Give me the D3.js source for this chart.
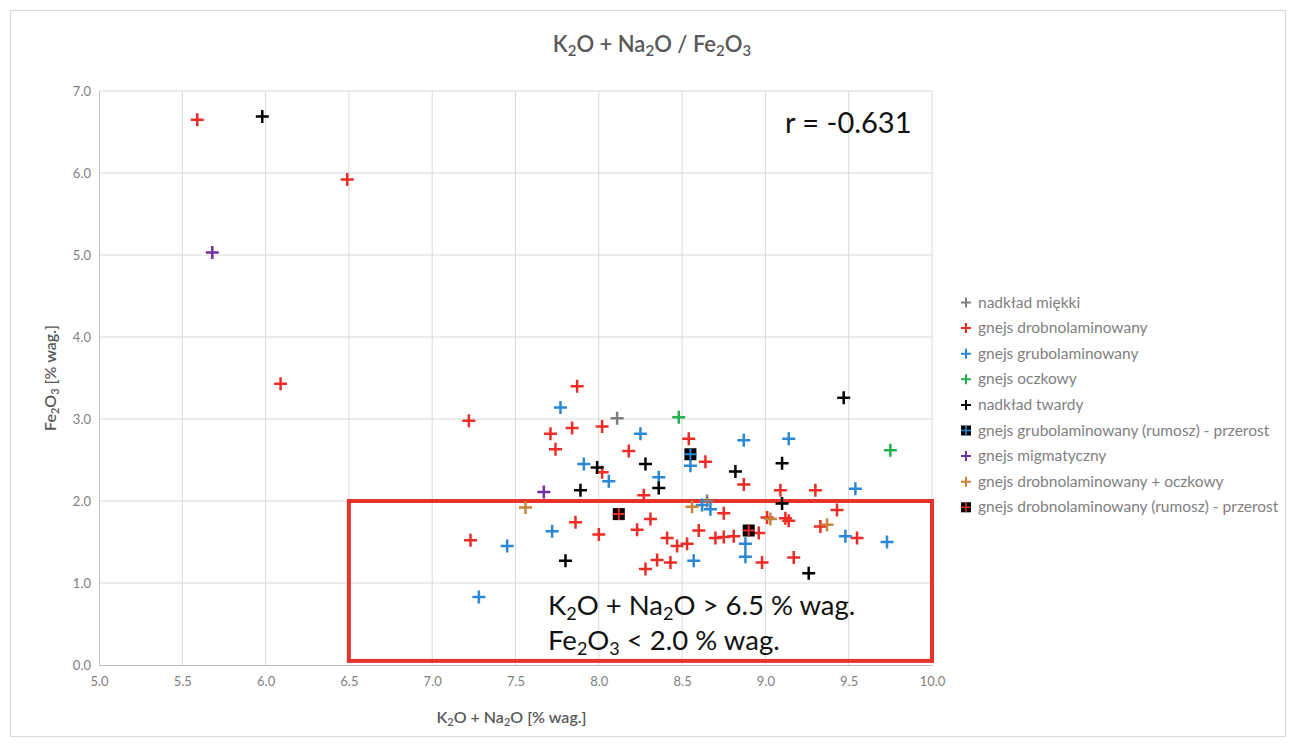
<!DOCTYPE html>
<html>
<head>
<meta charset="utf-8">
<script src="https://cdn.jsdelivr.net/npm/d3@7"></script>
<style>
  html, body { margin: 0; padding: 0; background: #ffffff; }
  svg { display: block; font-family: Lato, "Open Sans", "Liberation Sans", sans-serif; }
</style>
</head>
<body>
<svg id="chart" width="1296" height="747"></svg>
<script>
// ---------- data ----------
const xTicks = [5.0, 5.5, 6.0, 6.5, 7.0, 7.5, 8.0, 8.5, 9.0, 9.5, 10.0];
const yTicks = [0, 1, 2, 3, 4, 5, 6, 7];

const seriesNames = [
  "nadkład miękki",
  "gnejs drobnolaminowany",
  "gnejs grubolaminowany",
  "gnejs oczkowy",
  "nadkład twardy",
  "gnejs grubolaminowany (rumosz) - przerost",
  "gnejs migmatyczny",
  "gnejs drobnolaminowany + oczkowy",
  "gnejs drobnolaminowany (rumosz) - przerost"
];
const seriesColors = ["#7f7f7f", "#ee2b26", "#2a88d4", "#22b14c", "#000000", "#2a88d4", "#7030a0", "#c9843a", "#ee2b26"];
const seriesSquare = [false, false, false, false, false, true, false, false, true];

const nadkladMiekki = [[8.11, 3.01], [8.65, 2.00]];
const gnejsDrobno = [
  [5.59, 6.65], [6.49, 5.92], [6.09, 3.43], [7.87, 3.40], [7.22, 2.98], [8.02, 2.91], [7.84, 2.89],
  [7.71, 2.82], [8.54, 2.76], [7.74, 2.63], [8.18, 2.61], [8.64, 2.48], [8.02, 2.35], [8.87, 2.20],
  [9.09, 2.13], [9.30, 2.13], [8.27, 2.07], [8.75, 1.85], [9.01, 1.80], [9.12, 1.79], [9.14, 1.76],
  [9.43, 1.89], [9.33, 1.69], [8.31, 1.78], [7.86, 1.74], [8.23, 1.65], [8.00, 1.59], [8.41, 1.55],
  [8.47, 1.45], [8.53, 1.48], [8.60, 1.64], [8.70, 1.55], [8.75, 1.56], [8.81, 1.57], [8.96, 1.61],
  [7.23, 1.52], [8.35, 1.28], [8.43, 1.25], [8.28, 1.17], [8.98, 1.25], [9.17, 1.31], [9.55, 1.55]
];
const gnejsGrubo = [
  [7.77, 3.14], [8.25, 2.82], [8.87, 2.74], [9.14, 2.76], [8.55, 2.43], [7.91, 2.45], [8.06, 2.24],
  [8.36, 2.29], [9.54, 2.15], [8.62, 1.95], [8.67, 1.90], [7.72, 1.63], [7.45, 1.45], [8.57, 1.27],
  [8.88, 1.48], [8.88, 1.32], [9.48, 1.57], [9.73, 1.50], [7.28, 0.83]
];
const gnejsOczkowy = [[8.48, 3.02], [9.75, 2.62]];
const nadkladTwardy = [
  [5.98, 6.69], [9.47, 3.26], [8.28, 2.45], [7.99, 2.41], [9.10, 2.46], [8.82, 2.36], [8.36, 2.16],
  [7.89, 2.13], [9.10, 1.97], [7.80, 1.27], [9.26, 1.12]
];
const gnejsGruboRumosz = [[8.55, 2.57]];
const gnejsMigmatyczny = [[5.68, 5.03], [7.67, 2.11]];
const gnejsDrobnoOczkowy = [[7.56, 1.92], [8.56, 1.93], [9.03, 1.78], [9.37, 1.71]];
const gnejsDrobnoRumosz = [[8.12, 1.84], [8.90, 1.64]];

const seriesData = [nadkladMiekki, gnejsDrobno, gnejsGrubo, gnejsOczkowy, nadkladTwardy,
  gnejsGruboRumosz, gnejsMigmatyczny, gnejsDrobnoOczkowy, gnejsDrobnoRumosz];

const correlation = "r = -0.631";
const boxX = [6.5, 10.0];
const boxY = [0.05, 2.0];

// ---------- layout ----------
const svg = d3.select("#chart");
const W = 1296, H = 747;
const plot = { left: 99, right: 932, top: 91, bottom: 665 };

svg.append("rect").attr("x", 10.5).attr("y", 10.5).attr("width", W - 21).attr("height", H - 21)
  .attr("fill", "#ffffff").attr("stroke", "#d9d9d9");

const x = d3.scaleLinear().domain([5, 10]).range([plot.left, plot.right]);
const y = d3.scaleLinear().domain([0, 7]).range([plot.bottom, plot.top]);

// gridlines
const grid = svg.append("g");
grid.selectAll("line.v").data(xTicks.slice(1)).join("line")
  .attr("x1", d => x(d)).attr("x2", d => x(d)).attr("y1", plot.top).attr("y2", plot.bottom)
  .attr("stroke", "#d9d9d9").attr("stroke-width", 1);
grid.selectAll("line.h").data(yTicks.slice(1)).join("line")
  .attr("y1", d => y(d)).attr("y2", d => y(d)).attr("x1", plot.left).attr("x2", plot.right)
  .attr("stroke", "#d9d9d9").attr("stroke-width", 1);

// axes
const xAxis = d3.axisBottom(x).tickValues(xTicks).tickFormat(d3.format(".1f")).tickSize(0).tickPadding(12);
const yAxis = d3.axisLeft(y).tickValues(yTicks).tickFormat(d3.format(".1f")).tickSize(0).tickPadding(8);
const gx = svg.append("g").attr("transform", `translate(0,${plot.bottom})`).call(xAxis);
const gy = svg.append("g").attr("transform", `translate(${plot.left},0)`).call(yAxis);
[gx, gy].forEach(g => {
  g.select(".domain").attr("stroke", "#bfbfbf").attr("stroke-width", 1);
  g.selectAll("text").attr("fill", "#7f7f7f").attr("font-size", 13).attr("font-family", "Lato, sans-serif");
});

// red box annotation
svg.append("rect")
  .attr("x", x(boxX[0])).attr("y", y(boxY[1]))
  .attr("width", x(boxX[1]) - x(boxX[0])).attr("height", y(boxY[0]) - y(boxY[1]))
  .attr("fill", "none").attr("stroke", "#e8332a").attr("stroke-width", 4);

// markers
const crossPath = "M-6.5,0H6.5M0,-6.5V6.5";
seriesData.forEach((data, i) => {
  const g = svg.append("g");
  const pts = g.selectAll("g").data(data).join("g")
    .attr("transform", d => `translate(${x(d[0])},${y(d[1])})`);
  if (seriesSquare[i]) {
    pts.append("rect").attr("x", -6).attr("y", -6).attr("width", 12).attr("height", 12).attr("fill", "#000");
    pts.append("path").attr("d", "M-6,0H6M0,-6V6").attr("stroke", seriesColors[i]).attr("stroke-width", 2);
  } else {
    pts.append("path").attr("d", crossPath).attr("stroke", seriesColors[i]).attr("stroke-width", 2.5);
  }
});

// text with subscripts
function subText(sel, parts, subSize) {
  parts.forEach(p => {
    const t = sel.append("tspan").text(p.t);
    if (p.sub) t.attr("font-size", subSize).attr("baseline-shift", "-25%");
  });
}

const title = svg.append("text").attr("x", 652).attr("y", 52).attr("text-anchor", "middle")
  .attr("font-size", 22).attr("font-weight", 600).attr("fill", "#595959");
subText(title, [{t:"K"},{t:"2",sub:true},{t:"O + Na"},{t:"2",sub:true},{t:"O / Fe"},{t:"2",sub:true},{t:"O"},{t:"3",sub:true}], 15);

// axis titles
const xt = svg.append("text").attr("x", (plot.left + plot.right) / 2 - 4).attr("y", 723).attr("text-anchor", "middle")
  .attr("font-size", 16).attr("font-weight", 600).attr("fill", "#595959");
subText(xt, [{t:"K"},{t:"2",sub:true},{t:"O + Na"},{t:"2",sub:true},{t:"O [% wag.]"}], 11);

const yt = svg.append("text").attr("transform", `translate(56,${(plot.top + plot.bottom) / 2}) rotate(-90)`)
  .attr("text-anchor", "middle").attr("font-size", 16).attr("font-weight", 600).attr("fill", "#595959");
subText(yt, [{t:"Fe"},{t:"2",sub:true},{t:"O"},{t:"3",sub:true},{t:" [% wag.]"}], 11);

// correlation label
svg.append("text").attr("x", 785).attr("y", 133).attr("font-size", 29).attr("fill", "#111")
  .text(correlation);

// box texts
const b1 = svg.append("text").attr("x", 548).attr("y", 615).attr("font-size", 27.5).attr("fill", "#111");
subText(b1, [{t:"K"},{t:"2",sub:true},{t:"O + Na"},{t:"2",sub:true},{t:"O > 6.5 % wag."}], 18);
const b2 = svg.append("text").attr("x", 548).attr("y", 650).attr("font-size", 27.5).attr("fill", "#111");
subText(b2, [{t:"Fe"},{t:"2",sub:true},{t:"O"},{t:"3",sub:true},{t:" < 2.0 % wag."}], 18);

// legend
const legend = svg.append("g");
const legY0 = 302.5, legStep = 25.6;
seriesNames.forEach((name, i) => {
  const g = legend.append("g").attr("transform", `translate(966,${legY0 + i * legStep})`);
  if (seriesSquare[i]) {
    g.append("rect").attr("x", -5).attr("y", -5).attr("width", 10).attr("height", 10).attr("fill", "#000");
    g.append("path").attr("d", "M-5,0H5M0,-5V5").attr("stroke", seriesColors[i]).attr("stroke-width", 1.6);
  } else {
    g.append("path").attr("d", "M-5,0H5M0,-5V5").attr("stroke", seriesColors[i]).attr("stroke-width", 2);
  }
  g.append("text").attr("x", 12).attr("y", 5).attr("font-size", 15.5).attr("fill", "#7f7f7f").text(name);
});
</script>
</body>
</html>
